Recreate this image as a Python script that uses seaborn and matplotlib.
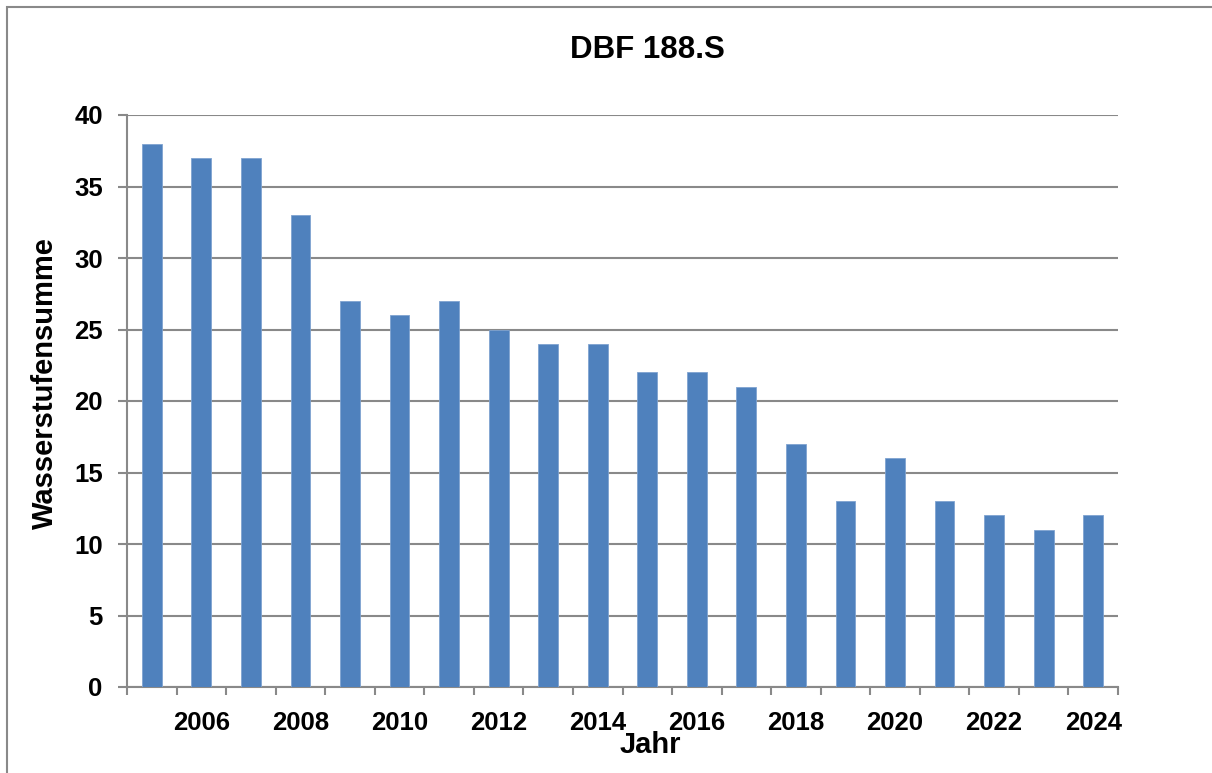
import matplotlib
matplotlib.use("Agg")
import matplotlib.pyplot as plt
import matplotlib.patches as patches
import pandas as pd
import seaborn as sns

# === Data ===
years = list(range(2005, 2025))
values = [38, 37, 37, 33, 27, 26, 27, 25, 24, 24, 22, 22, 21, 17, 13, 16, 13, 12, 11, 12]
title = "DBF 188.S"
x_label = "Jahr"
y_label = "Wasserstufensumme"

df = pd.DataFrame({"Jahr": [str(y) for y in years], "Wert": values})

sns.set_style("white")
plt.rcParams["font.family"] = ["Liberation Sans", "DejaVu Sans"]
plt.rcParams["text.color"] = "black"
plt.rcParams["axes.labelcolor"] = "black"
plt.rcParams["xtick.labelcolor"] = "black"
plt.rcParams["ytick.labelcolor"] = "black"

W, H = 1212, 773
fig = plt.figure(figsize=(W / 100, H / 100), dpi=100)
ax = fig.add_axes([127 / W, 1 - 687 / H, (1118 - 127) / W, (687 - 115) / H])

grid_col = "#898989"
sns.barplot(data=df, x="Jahr", y="Wert", color="#4F81BD", width=0.4,
            saturation=1, edgecolor="#7fa3d0", linewidth=0.6, ax=ax, zorder=3)

ax.set_ylim(0, 40)
ax.set_xlim(-0.5, len(years) - 0.5)
ax.set_yticks(range(0, 41, 5))
ax.yaxis.grid(True, color=grid_col, linewidth=1.5, zorder=0)
ax.set_axisbelow(True)

# labels at even years, tick marks at category boundaries
even_idx = [i for i, y in enumerate(years) if y % 2 == 0]
ax.set_xticks(even_idx)
ax.set_xticklabels([str(years[i]) for i in even_idx])
ax.set_xticks([i - 0.5 for i in range(len(years) + 1)], minor=True)
ax.tick_params(axis="x", which="major", length=0, pad=17, labelsize=18.5, labelcolor="black")
ax.tick_params(axis="x", which="minor", length=5.5, width=1.5, color=grid_col, direction="out")
ax.tick_params(axis="y", which="major", length=6.5, width=1.5, color=grid_col, pad=11,
               labelsize=18.5, labelcolor="black")
ax.tick_params(left=True, bottom=True, which="both")
for lbl in ax.get_xticklabels() + ax.get_yticklabels():
    lbl.set_fontweight("bold")

for side in ["top", "right"]:
    ax.spines[side].set_visible(False)
for side in ["left", "bottom"]:
    ax.spines[side].set_color(grid_col)
    ax.spines[side].set_linewidth(1.5)

ax.set_xlabel(x_label, fontsize=21, fontweight="bold", va="center", color="black")
ax.xaxis.set_label_coords((650 - 127) / 991, (687 - 745) / 572)
ax.set_ylabel(y_label, fontsize=21, fontweight="bold", va="center", color="black")
ax.yaxis.set_label_coords((45 - 127) / 991, (687 - 383) / 572)

ax.text((647 - 127) / 991, (687 - 50) / 572, title, transform=ax.transAxes,
        ha="center", va="center", fontsize=22.5, fontweight="bold", color="black")

# outer chart frame
fig.patches.append(patches.Rectangle((7 / W, -0.1), 2, 1 - 7 / H + 0.1,
                                     transform=fig.transFigure, fill=False,
                                     edgecolor=grid_col, linewidth=1.5))

fig.savefig("out.png", dpi=100)
